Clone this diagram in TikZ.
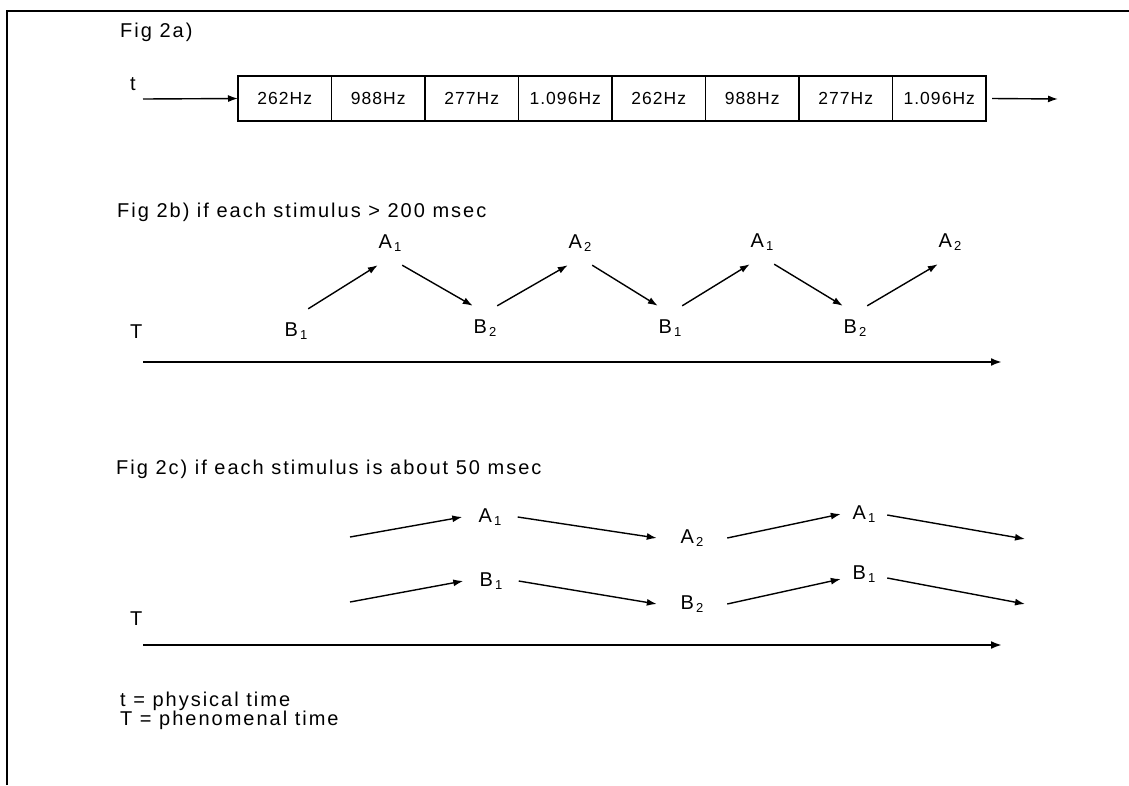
\documentclass[tikz,border=0pt]{standalone}
\usepackage{fontspec}
\setmainfont{Liberation Sans}
\newfontfamily\spc{Liberation Sans}[LetterSpace=10]
\newfontfamily\cspc{Liberation Sans}[LetterSpace=6]
\usetikzlibrary{arrows.meta}
\newcommand{\lbl}[2]{#1\kern2pt\raisebox{-3.5pt}{\fontsize{13}{13}\selectfont #2}}
\begin{document}
\begin{tikzpicture}[x=1pt,y=-1pt,
  head/.style={anchor=base west, inner sep=0pt, font=\spc\fontsize{20}{22}\selectfont},
  cell/.style={draw, line width=1.5pt, minimum width=93.5pt, minimum height=45pt, inner sep=0pt, outer sep=0pt, font=\cspc\fontsize{17.5}{19}\selectfont},
  lab/.style={inner sep=0pt, minimum width=24pt, minimum height=44pt, font=\fontsize{20}{22}\selectfont},
  labc/.style={inner sep=0pt, minimum height=20pt, font=\fontsize{20}{22}\selectfont},
  arr/.style={-{Latex[length=10pt,width=7pt]}, line width=1.4pt},
  axis/.style={-{Latex[length=11pt,width=8pt]}, line width=2.2pt}]
\useasboundingbox (0,0) rectangle (1129,785);
\fill[white] (0,0) rectangle (1129,785);
\draw[line width=2.2pt] (7,785) -- (7,11) -- (1129,11);

% Fig 2a
\node[head] (h1) at (120,37) {Fig 2a)};
\node[head] (tl) at (130,90) {t};
\foreach \t [count=\i] in {262Hz,988Hz,277Hz,1.096Hz,262Hz,988Hz,277Hz,1.096Hz}
  \node[cell] (c\i) at ({238+93.5*(\i-0.5)},98.5) {\t};
\coordinate (tin) at (143,99);
\coordinate (tout) at (1058,99);
\draw[arr] (tin) -- (c1.west);
\draw[arr] ([xshift=6pt]c8.east) -- (tout);

% Fig 2b
\node[head] (h2) at (117,217) {Fig 2b) if each stimulus > 200 msec};
\node[head] (T1) at (130,338) {T};
\node[lab] (bA1) at (390,243) {\lbl{A}{1}};
\node[lab] (bB1) at (296,331) {\lbl{B}{1}};
\node[lab] (bB2) at (485,328) {\lbl{B}{2}};
\node[lab] (bA2) at (580,243) {\lbl{A}{2}};
\node[lab] (bB3) at (670,328) {\lbl{B}{1}};
\node[lab] (bA3) at (762,242) {\lbl{A}{1}};
\node[lab] (bB4) at (855,328) {\lbl{B}{2}};
\node[lab] (bA4) at (950,242) {\lbl{A}{2}};
\draw[arr] (bB1.north east) -- (bA1.south west);
\draw[arr] (bA1.south east) -- (bB2.north west);
\draw[arr] (bB2.north east) -- (bA2.south west);
\draw[arr] (bA2.south east) -- (bB3.north west);
\draw[arr] (bB3.north east) -- (bA3.south west);
\draw[arr] (bA3.south east) -- (bB4.north west);
\draw[arr] (bB4.north east) -- (bA4.south west);
\coordinate (ax1s) at (143,362);
\coordinate (ax1e) at (1002,362);
\draw[axis] (ax1s) -- (ax1e);

% Fig 2c
\node[head] (h3) at (116,474) {Fig 2c) if each stimulus is about 50 msec};
\node[head] (T2) at (130,625) {T};
\node[labc, minimum width=55pt] (cA1) at (490,517) {\lbl{A}{1}};
\node[labc, minimum width=70pt] (cA2) at (692,538) {\lbl{A}{2}};
\node[labc, minimum width=46pt] (cA3) at (864,514) {\lbl{A}{1}};
\node[labc, minimum width=55pt] (cB1) at (491,581) {\lbl{B}{1}};
\node[labc, minimum width=70pt] (cB2) at (692,604) {\lbl{B}{2}};
\node[labc, minimum width=46pt] (cB3) at (864,574) {\lbl{B}{1}};
\coordinate (ca0) at (350,537);
\coordinate (ca9) at (1025,539);
\coordinate (cb0) at (350,602);
\coordinate (cb9) at (1025,604);
\draw[arr] (ca0) -- (cA1.west);
\draw[arr] (cA1.east) -- (cA2.west);
\draw[arr] (cA2.east) -- (cA3.west);
\draw[arr] ([yshift=-1pt]cA3.east) -- (ca9);
\draw[arr] (cb0) -- (cB1.west);
\draw[arr] (cB1.east) -- (cB2.west);
\draw[arr] (cB2.east) -- ([yshift=-5pt]cB3.west);
\draw[arr] ([yshift=-4pt]cB3.east) -- (cb9);
\coordinate (ax2s) at (143,645);
\coordinate (ax2e) at (1002,645);
\draw[axis] (ax2s) -- (ax2e);

% legend
\node[head] (l1) at (120,706) {t = physical time};
\node[head] (l2) at (120,725) {T = phenomenal time};
\end{tikzpicture}
\end{document}
